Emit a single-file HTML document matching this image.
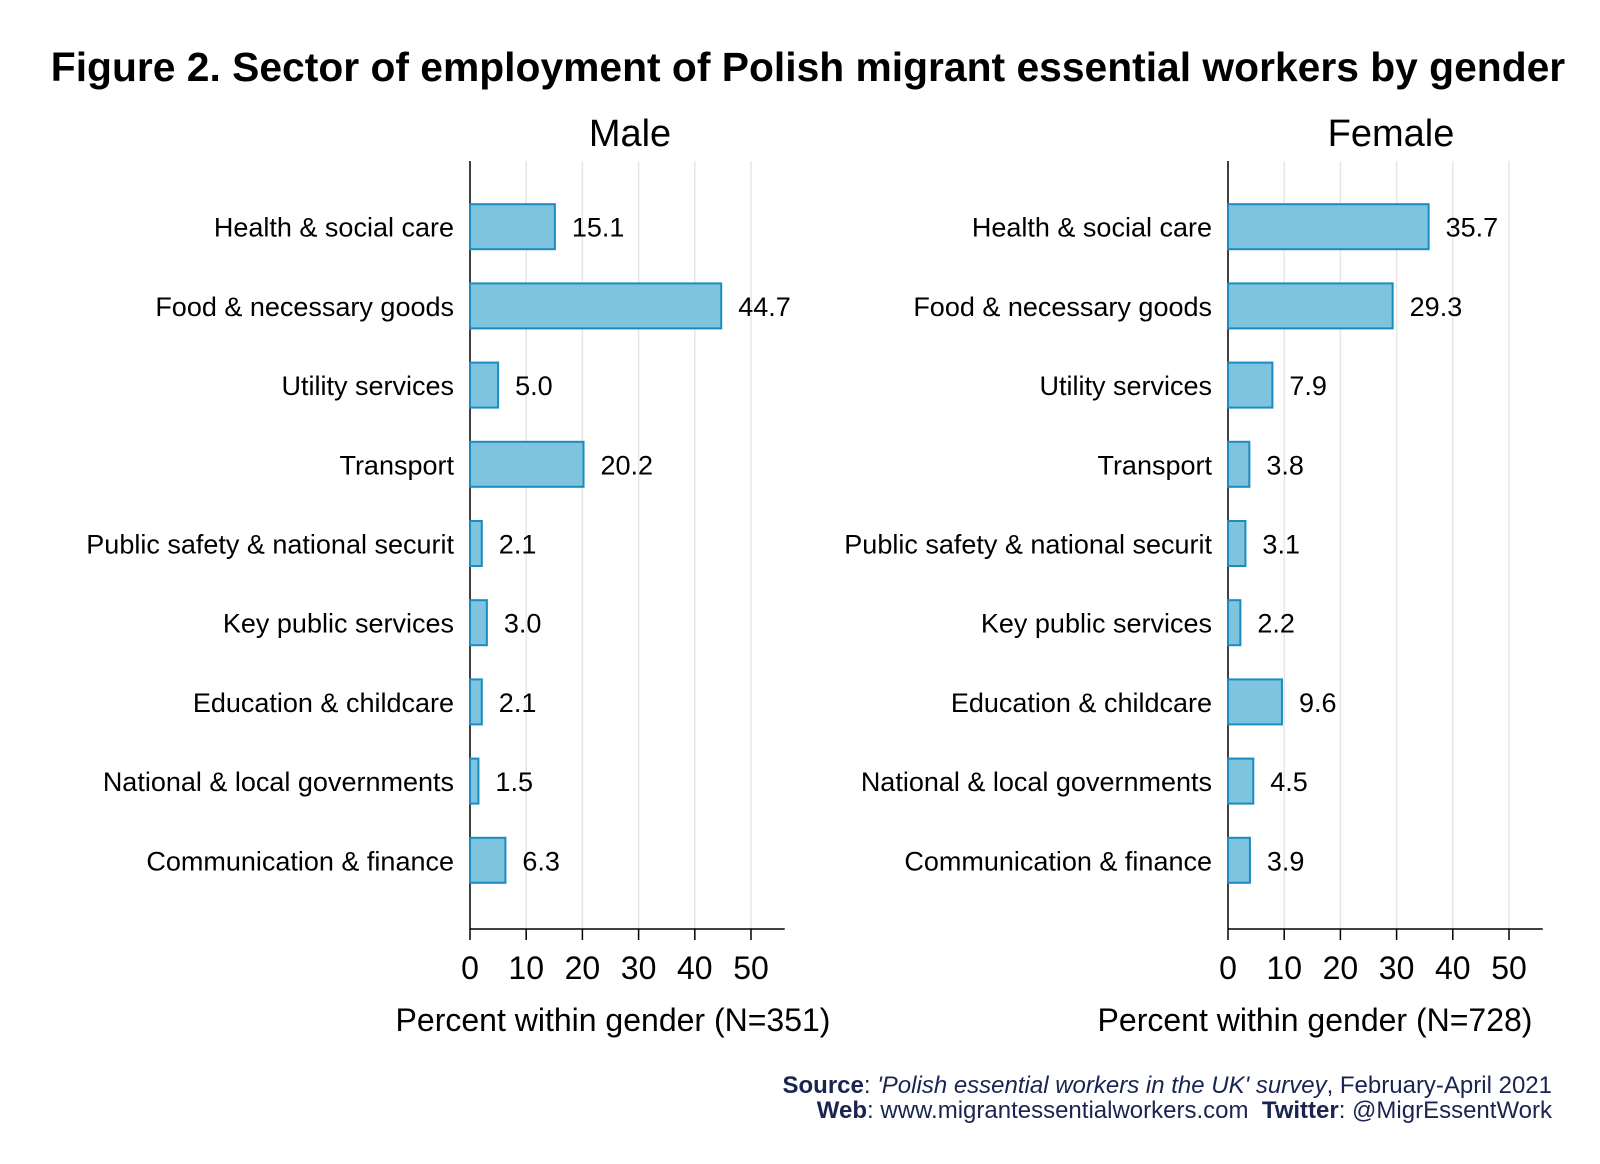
<!DOCTYPE html>
<html><head><meta charset="utf-8"><style>
body{margin:0;background:#fff;}
svg{display:block;font-family:"Liberation Sans",Arial,sans-serif;}
</style></head><body>
<svg id="chart" width="1600" height="1164" viewBox="0 0 1600 1164">
<text x="808" y="81" text-anchor="middle" font-size="40.8" font-weight="bold" fill="#000">Figure 2. Sector of employment of Polish migrant essential workers by gender</text>
<g id="panels"></g>
<text x="1552" y="1093" text-anchor="end" font-size="24" fill="#1a2450"><tspan font-weight="bold">Source</tspan>: <tspan font-style="italic">'Polish essential workers in the UK' survey</tspan>, February-April 2021</text>
<text x="1552" y="1118" text-anchor="end" font-size="24" fill="#1a2450" xml:space="preserve"><tspan font-weight="bold">Web</tspan>: www.migrantessentialworkers.com  <tspan font-weight="bold">Twitter</tspan>: @MigrEssentWork</text>
</svg>
<script>
const categories=["Health & social care","Food & necessary goods","Utility services","Transport","Public safety & national securit","Key public services","Education & childcare","National & local governments","Communication & finance"];
const maleValues=[15.1,44.7,5.0,20.2,2.1,3.0,2.1,1.5,6.3];
const femaleValues=[35.7,29.3,7.9,3.8,3.1,2.2,9.6,4.5,3.9];
const tickValues=[0,10,20,30,40,50];
const panelTitles=["Male","Female"];
const axisTitles=["Percent within gender (N=351)","Percent within gender (N=728)"];

const NS="http://www.w3.org/2000/svg";
const root=document.getElementById('panels');
function mk(tag,attrs,parent,text){const e=document.createElementNS(NS,tag);for(const k in attrs)e.setAttribute(k,attrs[k]);if(text!==undefined)e.textContent=text;parent.appendChild(e);return e;}
const y0=226.7, step=79.2, barH=45, scale=5.62;
function yPos(i){return y0+i*step;}
const panels=[[470,maleValues,630,143],[1228,femaleValues,1391,87]];
panels.forEach(([ox,vals,titleX,axOff],p)=>{
  const g=mk('g',{},root);
  
  
  const xs=v=>ox+v*scale;
  const t=mk('text',{x:titleX,y:146,'text-anchor':'middle','font-size':38},g,panelTitles[p]);
  
  
  tickValues.forEach(v=>{
    if(v>0){const gl=mk('line',{x1:xs(v),x2:xs(v),y1:161,y2:929,stroke:'#e6e6e6','stroke-width':1.5},g);
    
    }
    const tk=mk('line',{x1:xs(v),x2:xs(v),y1:929,y2:940,stroke:'#000','stroke-width':1.5},g);
    
    
    const tl=mk('text',{x:xs(v),y:979,'text-anchor':'middle','font-size':32},g,String(v));
    
    
  });
  const ax=mk('line',{x1:ox,x2:ox,y1:161,y2:929,stroke:'#000','stroke-width':1.5},g);
  
  
  const xa=mk('line',{x1:ox,x2:xs(56),y1:929,y2:929,stroke:'#000','stroke-width':1.5},g);
  
  
  const at=mk('text',{x:ox+axOff,y:1031,'text-anchor':'middle','font-size':32},g,axisTitles[p]);
  
  
  vals.forEach((v,i)=>{
    const y=yPos(i);
    const lab=mk('text',{x:ox-16,y:y+10,'text-anchor':'end','font-size':27},g,categories[i]);
    
    
    const b=mk('rect',{x:ox,y:y-barH/2,width:xs(v)-ox,height:barH,fill:'#7fc4de',stroke:'#1a8cbe','stroke-width':2},g);
    
    
    const vl=mk('text',{x:xs(v)+17,y:y+10,'font-size':27},g,v.toFixed(1));
    
    
  });
});
</script>
</body></html>
